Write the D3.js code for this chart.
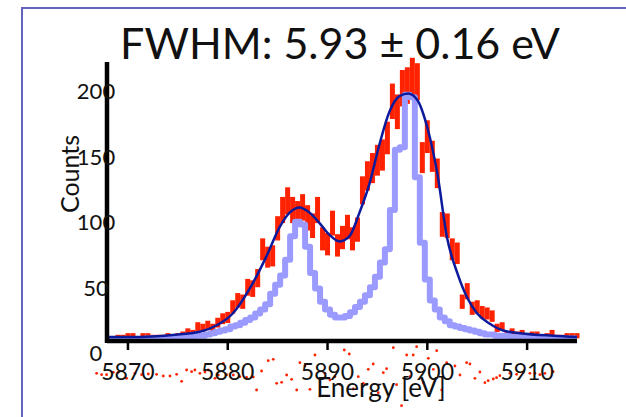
<!DOCTYPE html>
<html>
<head>
<meta charset="utf-8">
<script src="https://cdn.jsdelivr.net/npm/d3@7"></script>
<style>
  body { margin: 0; background: #fff; }
  text { font-family: Lato, "Open Sans", sans-serif; fill: #111; }
</style>
</head>
<body>
<div class="container-chart"></div>
<script>
// energy bins (0.5 eV), starting at 5868.0 eV
const binStart = 5868.0;
const binWidth = 0.5;

// measured counts per bin
const counts = [2, 1, 3, 3, 4, 4, 2, 4, 4, 3, 3, 3, 4, 2, 4, 5, 7, 6, 11, 10,
  12, 10, 14, 17, 18, 26, 31, 30, 41, 40, 48, 70, 64, 65, 86, 100, 107, 100, 97, 102,
  94, 88, 100, 78, 74, 90, 73, 79, 87, 78, 85, 115, 126, 132, 138, 142, 155, 183, 175, 193,
  195, 202, 198, 140, 156, 141, 128, 89, 88, 70, 67, 30, 38, 25, 26, 22, 21, 19, 10, 11,
  5, 7, 5, 6, 4, 5, 5, 3, 4, 6, 3, 3, 4, 4, 4];

// natural line shape (same bins)
const natural = [1, 1, 1, 1, 1, 1, 1, 1, 2, 2, 2, 2, 2, 2, 2, 3, 3, 3, 4, 4,
  5, 6, 7, 8, 9, 11, 12, 14, 16, 18, 21, 24, 28, 36, 43, 50, 62, 80, 91, 89,
  72, 52, 40, 30, 24, 20, 18, 18, 19, 22, 26, 30, 35, 41, 49, 60, 70, 100, 146, 148,
  188, 186, 125, 75, 47, 31, 24, 18, 15, 12, 11, 10, 9, 8, 7, 6, 5, 5, 4, 4,
  4, 3, 3, 3, 3, 2, 2, 2, 2, 2, 2, 2, 2, 2, 2];

// fit curve, read at points
const fitE = [5867.9, 5870, 5875, 5877.2, 5878.9, 5880.5, 5882.2, 5883.9, 5885.2, 5886.2,
  5887.2, 5888.2, 5889.2, 5890.2, 5891.2, 5892.2, 5893.2, 5894.2, 5895.2, 5896.2,
  5897.2, 5898.1, 5899.0, 5900.0, 5901.0, 5902.0, 5903.0, 5904.0, 5905.0, 5906.3,
  5907.6, 5909.3, 5912.6, 5915];
const fitV = [3, 3, 5, 7, 12, 21, 40, 65, 87, 98,
  102, 98, 90, 81, 76, 80, 98, 120, 150, 175,
  187, 189, 184, 163, 128, 78, 52, 33, 21, 13,
  8, 6, 4, 3];

// residuals (sigma)
const resE = [5866.86, 5867.36, 5867.86, 5868.53, 5869.03, 5869.87, 5870.70, 5871.37, 5872.04, 5872.87,
  5873.54, 5874.21, 5874.88, 5875.38, 5875.88, 5876.38, 5876.71, 5877.21, 5877.72, 5878.05,
  5878.72, 5879.05, 5879.55, 5879.89, 5880.56, 5881.22, 5881.89, 5882.56, 5882.89, 5883.39,
  5884.06, 5884.56, 5884.90, 5885.40, 5885.90, 5886.40, 5886.91, 5887.23, 5887.74, 5888.24,
  5888.74, 5889.24, 5889.74, 5890.24, 5890.74, 5891.24, 5891.68, 5892.18, 5892.58, 5893.08,
  5893.58, 5894.08, 5894.58, 5895.08, 5895.59, 5895.92, 5896.59, 5896.92, 5897.42, 5897.93,
  5898.26, 5898.59, 5898.93, 5899.60, 5900.10, 5900.60, 5900.94, 5901.44, 5901.94, 5902.77,
  5903.27, 5903.94, 5904.27, 5904.77, 5905.27, 5905.77, 5906.10, 5906.61, 5906.94, 5907.27,
  5908.28, 5908.95, 5909.61, 5910.28, 5910.78, 5911.28, 5911.78, 5912.61];
const resV = [0.33, 0.07, 0.07, 0.53, 0.53, -0.67, 0.33, 0.07, 0.2, 0.13,
  -0.2, -0.2, 0.13, -1.27, 1.0, 0.67, 1.0, 0.33, 0.6, 1.0,
  -0.67, 0, 2.33, 0.07, 0, -0.33, -0.47, -0.4, -3.0, 0.8,
  2.87, 3.13, -1.67, -1.47, 0, -0.87, -3.0, 2.47, 1.8, -2.87,
  4.0, -4.2, 0.33, -1.0, -0.33, -1.87, 5.0, 4.2, -2.8, -0.33,
  -1.67, 1.13, 2.2, -3.53, 0.47, 1.27, 5.47, -1.93, -6.13, 4.0,
  -0.33, 4.0, 5.67, -1.53, 3.33, 1.13, 4.87, -3.0, 2.47, 1.8,
  0, 2.47, 2.2, -0.67, 0.6, -1.53, -1.13, -0.8, -0.53, -0.13,
  0.33, 0.13, 0.53, 0.33, 0.33, 0.07, 0.33, 0.67];

const xTicks = [5870, 5880, 5890, 5900, 5910];
const yTicks = [0, 50, 100, 150, 200];
const title = "FWHM: 5.93 \u00b1 0.16 eV";

const W = 626, H = 417;

const svg = d3.select(".container-chart")
    .append("svg")
    .attr("width", W)
    .attr("height", H);

const x = d3.scaleLinear().domain([5867.9, 5915]).range([107, 577]);
const y = d3.scaleLinear().domain([0, 213]).range([341, 62]);
const yRes = d3.scaleLinear().domain([-7, 7]).range([410, 340]);

// frame
svg.append("rect")
    .attr("x", 22).attr("y", 8)
    .attr("width", W).attr("height", H)
    .attr("fill", "none")
    .attr("stroke", "#6464bc")
    .attr("stroke-width", 2);

const bins = counts.map((c, i) => ({ e: binStart + i * binWidth, c: c, n: natural[i] }));

// data with sqrt(N) errors
svg.append("g").selectAll("rect")
    .data(bins)
    .enter()
    .append("rect")
    .attr("x", d => x(d.e - binWidth / 2))
    .attr("width", d => x(d.e + binWidth / 2) - x(d.e - binWidth / 2))
    .attr("y", d => y(d.c + Math.sqrt(d.c)))
    .attr("height", d => y(d.c - Math.sqrt(d.c)) - y(d.c + Math.sqrt(d.c)))
    .attr("fill", "#ff2200");

// natural line shape
const step = d3.line()
    .curve(d3.curveStep)
    .x(d => x(d.e))
    .y(d => y(d.n));

svg.append("path")
    .datum(bins)
    .attr("d", step)
    .attr("fill", "none")
    .attr("stroke", "#9b9bff")
    .attr("stroke-width", 6)
    .attr("stroke-linejoin", "round");

// fit
const fitLine = d3.line()
    .curve(d3.curveMonotoneX)
    .x(d => x(d[0]))
    .y(d => y(d[1]));

svg.append("path")
    .datum(d3.zip(fitE, fitV))
    .attr("d", fitLine)
    .attr("fill", "none")
    .attr("stroke", "#0c1a9c")
    .attr("stroke-width", 2.5);

// residuals
svg.append("g").selectAll("circle")
    .data(d3.zip(resE, resV))
    .enter()
    .append("circle")
    .attr("cx", d => x(d[0]))
    .attr("cy", d => yRes(d[1]))
    .attr("r", 1.4)
    .attr("fill", "#ff2200");

// axes
const axes = svg.append("g");
axes.append("line")
    .attr("x1", x.range()[0]).attr("x2", x.range()[1])
    .attr("y1", y(0)).attr("y2", y(0))
    .attr("stroke", "#000").attr("stroke-width", 4.5);
axes.append("line")
    .attr("x1", x.range()[0]).attr("x2", x.range()[0])
    .attr("y1", y.range()[1]).attr("y2", y(0) + 2)
    .attr("stroke", "#000").attr("stroke-width", 4.5);

axes.selectAll(".xtick")
    .data(xTicks)
    .enter()
    .append("line")
    .attr("class", "xtick")
    .attr("x1", d => x(d)).attr("x2", d => x(d))
    .attr("y1", y(0)).attr("y2", y(0) + 9)
    .attr("stroke", "#000").attr("stroke-width", 2.5);

axes.selectAll(".xlab")
    .data(xTicks)
    .enter()
    .append("text")
    .attr("class", "xlab")
    .attr("x", d => x(d))
    .attr("y", y(0) + 39)
    .attr("text-anchor", "middle")
    .style("font-size", "23px")
    .text(d => d);

axes.selectAll(".ylab")
    .data(yTicks)
    .enter()
    .append("text")
    .attr("class", "ylab")
    .attr("x", 96)
    .attr("y", d => y(d) + 20)
    .attr("text-anchor", "middle")
    .style("font-size", "22px")
    .text(d => d);

// labels
svg.append("text")
    .attr("x", 340).attr("y", 59)
    .attr("text-anchor", "middle")
    .style("font-size", "43px")
    .text(title);

svg.append("text")
    .attr("transform", "translate(79,174) rotate(-90)")
    .attr("text-anchor", "middle")
    .style("font-size", "25px")
    .text("Counts");

svg.append("text")
    .attr("x", 381).attr("y", 397)
    .attr("text-anchor", "middle")
    .style("font-size", "26px")
    .text("Energy [eV]");
</script>
</body>
</html>
